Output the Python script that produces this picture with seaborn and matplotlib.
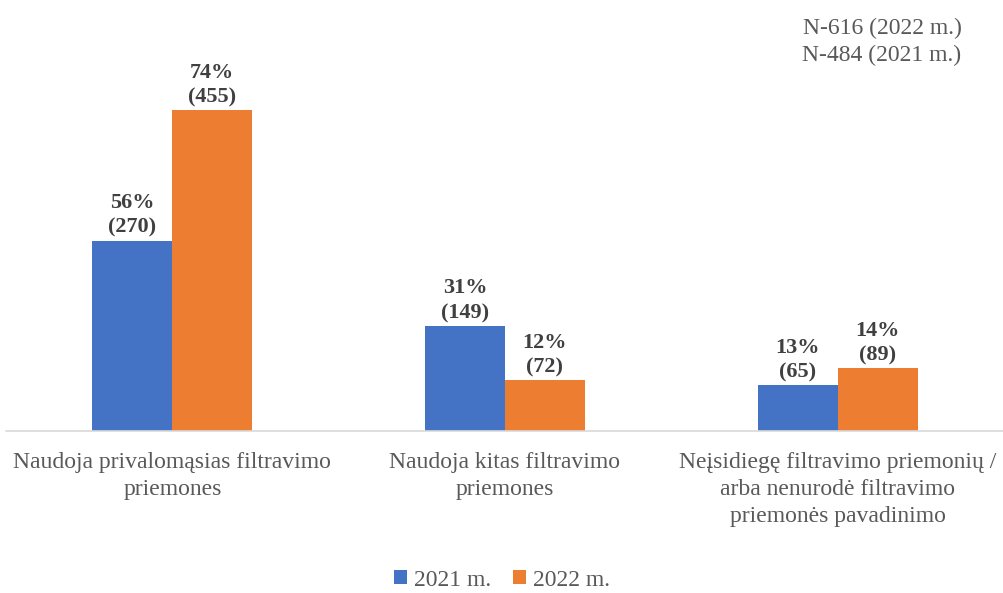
import pandas as pd
import matplotlib.pyplot as plt
import seaborn as sns

# ---- data ----
categories = [
    "Naudoja privalomąsias filtravimo\npriemones",
    "Naudoja kitas filtravimo\npriemones",
    "Neįsidiegę filtravimo priemonių /\narba nenurodė filtravimo\npriemonės pavadinimo",
]
years = ["2021 m.", "2022 m."]
counts_2021 = [270, 149, 65]
counts_2022 = [455, 72, 89]
pct_2021 = [56, 31, 13]
pct_2022 = [74, 12, 14]
note_lines = ["N-616 (2022 m.)", "N-484 (2021 m.)"]

colors = ["#4472C4", "#ED7D31"]

sns.set_style("white")
plt.rcParams["font.family"] = ["Liberation Serif", "DejaVu Serif"]

df = pd.DataFrame({
    "kategorija": categories * 2,
    "metai": [years[0]] * 3 + [years[1]] * 3,
    "kiekis": counts_2021 + counts_2022,
})

fig = plt.figure(figsize=(10.04, 5.93), dpi=100)
ax = fig.add_axes([6 / 1004, (593 - 431) / 593, 998 / 1004, (431 - 20) / 593])

sns.barplot(data=df, x="kategorija", y="kiekis", hue="metai",
            palette=colors, width=0.48, linewidth=0, saturation=1,
            ax=ax)

ax.set_ylim(0, 583)
ax.set_xlim(-0.5, 2.5)

# value labels: percent + count
for cont, pcts, cnts in zip(ax.containers, [pct_2021, pct_2022],
                            [counts_2021, counts_2022]):
    labels = [f"{p}%\n({c})" for p, c in zip(pcts, cnts)]
    ax.bar_label(cont, labels=labels, padding=2, fontsize=16,
                 fontweight="bold", color="#404040", linespacing=1.32)

ax.set_xlabel("")
ax.set_ylabel("")
ax.set_yticks([])
ax.tick_params(axis="x", length=0, pad=15, labelsize=17, colors="#595959")
for lbl in ax.get_xticklabels():
    lbl.set_linespacing(1.38)

for side in ["top", "right", "left"]:
    ax.spines[side].set_visible(False)
ax.spines["bottom"].set_color("#D9D9D9")
ax.spines["bottom"].set_linewidth(1.2)

ax.legend(loc="center", bbox_to_anchor=(0.5, 13 / 593),
          bbox_transform=fig.transFigure, ncol=2, frameon=False,
          fontsize=17, handlelength=0.55, handleheight=0.55,
          handletextpad=0.3, columnspacing=0.9, labelcolor="#595959")

fig.text(882 / 1004, 1 - 28 / 593, note_lines[0], ha="center", va="center",
         fontsize=17, color="#595959")
fig.text(882 / 1004, 1 - 55 / 593, note_lines[1], ha="center", va="center",
         fontsize=17, color="#595959")

fig.savefig("out.png", dpi=100)
